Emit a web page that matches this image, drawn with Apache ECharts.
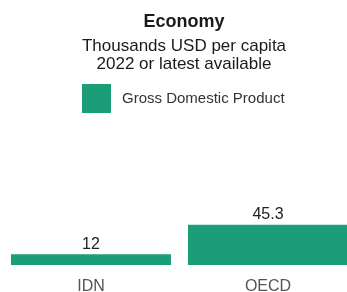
<!DOCTYPE html>
<html>
<head>
<meta charset="utf-8">
<script src="https://cdn.jsdelivr.net/npm/echarts@6/dist/echarts.min.js"></script>
<style>
  html, body { margin: 0; padding: 0; background: #fff; }
  #chart { width: 347px; height: 292px; }
</style>
</head>
<body>
<div id="chart"></div>
<script>
// data
var categories = ['IDN', 'OECD'];
var gdpValues = [12, 45.3];
var seriesName = 'Gross Domestic Product';

var font = 'Liberation Sans, Arial, sans-serif';

echarts.init(document.getElementById('chart')).setOption({
    animation: false,
    color: ['#1b9e77'],
    title: {
        text: 'Economy',
        subtext: 'Thousands USD per capita\n2022 or latest available',
        left: 179,
        textAlign: 'center',
        top: 7,
        itemGap: 5,
        textStyle: {
            fontFamily: font,
            fontSize: 18,
            fontWeight: 'bold',
            color: '#1a1a1a',
            lineHeight: 20
        },
        subtextStyle: {
            fontFamily: font,
            fontSize: 17,
            color: '#1a1a1a',
            lineHeight: 18
        }
    },
    legend: {
        data: [seriesName],
        left: 77,
        top: 79,
        icon: 'rect',
        itemWidth: 29,
        itemHeight: 29,
        textStyle: {
            fontFamily: font,
            fontSize: 15,
            color: '#333',
            padding: [0, 0, 0, 6]
        }
    },
    // grid runs a bit past the right edge, like the cropped original
    grid: {
        left: 2.5,
        width: 354,
        top: 176,
        bottom: 27,
        containLabel: false,
        outerBoundsMode: 'none'
    },
    xAxis: {
        type: 'category',
        data: categories,
        axisLine: { show: false },
        axisTick: { show: false },
        axisLabel: {
            margin: 14,
            fontFamily: font,
            fontSize: 16,
            color: '#555'
        }
    },
    yAxis: {
        type: 'value',
        min: 0,
        max: 100,
        show: false,
        splitLine: { show: false }
    },
    series: [{
        name: seriesName,
        type: 'bar',
        data: gdpValues,
        barWidth: 160,
        label: {
            show: true,
            position: 'top',
            distance: 2,
            fontFamily: font,
            fontSize: 16,
            color: '#222'
        }
    }]
});
</script>
</body>
</html>
